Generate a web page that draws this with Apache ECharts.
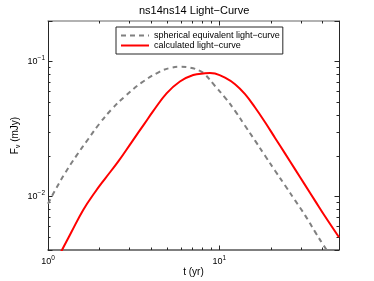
<!DOCTYPE html>
<html>
<head>
<meta charset="utf-8">
<script src="https://cdn.jsdelivr.net/npm/echarts@6/dist/echarts.min.js"></script>
<style>
html,body{margin:0;padding:0;background:#fff;}
#chart{width:374px;height:281px;}
</style>
</head>
<body>
<div id="chart"></div>
<script>
// ---- data ----
const chartTitle = 'ns14ns14 Light\u2212Curve';
const seriesNames = ['spherical equivalent light\u2212curve', 'calculated light\u2212curve'];
const xAxisName = 't (yr)';
const yAxisName = ['F', '\u03bd', ' (mJy)'];

const sphericalT = [1.0, 1.094, 1.252, 1.466, 1.714, 2.005, 2.349, 2.809, 3.517, 4.5, 5.149, 5.89, 6.74, 7.71, 8.25, 9.44, 10.8, 12.36, 14.14, 16.18, 18.51, 21.17, 24.23, 27.72, 31.71, 36.27, 40.6, 50];
const sphericalF = [0.00882, 0.01094, 0.01474, 0.02005, 0.02654, 0.03484, 0.04419, 0.05513, 0.06973, 0.08437, 0.08954, 0.09154, 0.0903, 0.08539, 0.0804, 0.0659, 0.0541, 0.0431, 0.0334, 0.0259, 0.0200, 0.0155, 0.01204, 0.00933, 0.00723, 0.00545, 0.00434, 0.00294];

const calculatedT = [1.1, 1.207, 1.37, 1.602, 1.876, 2.145, 2.567, 3.074, 3.678, 4.111, 4.923, 5.89, 7.047, 8.25, 8.82, 9.44, 10.8, 12.36, 14.14, 16.18, 18.51, 21.17, 24.23, 27.72, 31.71, 36.27, 41.5, 50];
const calculatedF = [0.00315, 0.0040, 0.00544, 0.0079, 0.01069, 0.01344, 0.0181, 0.02518, 0.03497, 0.04287, 0.05802, 0.07117, 0.07949, 0.0818, 0.0822, 0.0815, 0.0759, 0.0679, 0.0573, 0.0456, 0.03544, 0.02713, 0.02074, 0.01585, 0.01212, 0.00926, 0.00708, 0.00497];

const xRange = [1, 50];
const yRange = [0.004, 0.2];

// ---- chart ----
const FONT = 'Liberation Sans, Arial, Helvetica, sans-serif';
function pair(xs, ys) { return xs.map((x, i) => [x, ys[i]]); }
function powLabel(v) {
  const e = Math.log10(v);
  const r = Math.round(e);
  if (Math.abs(e - r) < 1e-6) {
    return '{b|10}{s|' + (r < 0 ? '\u2212' + (-r) : r) + '}';
  }
  return '';
}
const richPow = {
  b: { fontSize: 9, lineHeight: 14, fontFamily: FONT, color: '#000' },
  s: { fontSize: 6.5, lineHeight: 7, verticalAlign: 'top', fontFamily: FONT, color: '#000' }
};
function mkX(pos, showLabel, lineColor, lineWidth) {
  return {
    type: 'log', logBase: 10, position: pos, min: xRange[0], max: xRange[1],
    axisLine: { show: true, lineStyle: { color: lineColor, width: lineWidth } },
    axisTick: { show: true, inside: true, length: 4.5, lineStyle: { color: '#262626' } },
    minorTick: { show: true, splitNumber: 9, length: 2.5, lineStyle: { color: '#262626' } },
    splitLine: { show: false }, minorSplitLine: { show: false },
    axisLabel: showLabel ? { show: true, formatter: powLabel, rich: richPow, margin: 5 } : { show: false },
    name: showLabel ? xAxisName : '',
    nameLocation: 'middle', nameGap: 17, nameMoveOverlap: false,
    nameTextStyle: { fontSize: 10, fontFamily: FONT, color: '#000' }
  };
}
function mkY(pos, showLabel, lineColor, lineWidth) {
  return {
    type: 'log', logBase: 10, position: pos, min: yRange[0], max: yRange[1],
    axisLine: { show: true, lineStyle: { color: lineColor, width: lineWidth } },
    axisTick: { show: true, inside: true, length: 4.5, lineStyle: { color: '#262626' } },
    minorTick: { show: true, splitNumber: 9, length: 2.5, lineStyle: { color: '#262626' } },
    splitLine: { show: false }, minorSplitLine: { show: false },
    axisLabel: showLabel ? { show: true, formatter: powLabel, rich: richPow, margin: 3 } : { show: false },
    name: showLabel ? '{b|' + yAxisName[0] + '}{s|' + yAxisName[1] + '}{b|' + yAxisName[2] + '}' : '',
    nameLocation: 'middle', nameGap: 26, nameRotate: 90, nameMoveOverlap: false,
    nameTextStyle: {
      fontSize: 10, fontFamily: FONT, color: '#000',
      rich: {
        b: { fontSize: 10, lineHeight: 14, fontFamily: FONT, color: '#000' },
        s: { fontSize: 7, lineHeight: 7, verticalAlign: 'bottom', fontFamily: FONT, color: '#000' }
      }
    }
  };
}

const chart = echarts.init(document.getElementById('chart'), null, { renderer: 'canvas' });
chart.setOption({
  animation: false,
  backgroundColor: '#fff',
  title: {
    text: chartTitle, left: 139, top: 5, padding: 0,
    textStyle: { fontSize: 11, fontWeight: 'normal', fontFamily: FONT, color: '#000' }
  },
  grid: { left: 48, right: 35, top: 21, bottom: 31, containLabel: false, outerBoundsMode: 'none' },
  legend: {
    orient: 'vertical', left: 116, top: 27,
    padding: [4, 3, 4, 4], itemGap: 1, itemWidth: 28, itemHeight: 10,
    borderColor: '#262626', borderWidth: 1, backgroundColor: '#fff',
    itemStyle: { opacity: 0 },
    textStyle: { fontSize: 9, fontFamily: FONT, color: '#000' },
    data: seriesNames
  },
  xAxis: [mkX('bottom', true, '#555', 1.5), mkX('top', false, '#999', 1.5)],
  yAxis: [mkY('left', true, '#262626', 1), mkY('right', false, '#262626', 1)],
  series: [
    {
      name: seriesNames[0], type: 'line', xAxisIndex: 0, yAxisIndex: 0,
      data: pair(sphericalT, sphericalF), symbol: 'none', smooth: 0.4, clip: true,
      lineStyle: { color: '#808080', width: 2, type: [5, 4] }, itemStyle: { color: '#808080' }
    },
    {
      name: seriesNames[1], type: 'line', xAxisIndex: 0, yAxisIndex: 0,
      data: pair(calculatedT, calculatedF), symbol: 'none', smooth: 0.4, clip: true,
      lineStyle: { color: '#ff0000', width: 2 }, itemStyle: { color: '#ff0000' }
    }
  ]
});
</script>
</body>
</html>
